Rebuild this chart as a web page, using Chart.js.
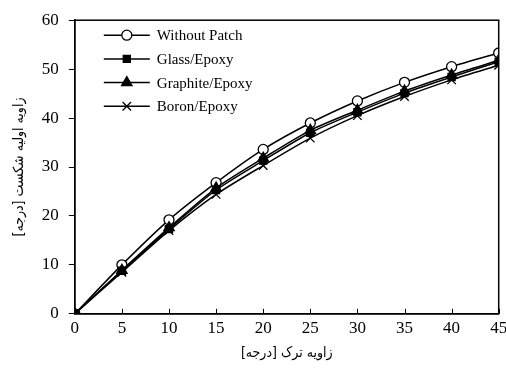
<!DOCTYPE html>
<html>
<head>
<meta charset="utf-8">
<script src="https://cdn.jsdelivr.net/npm/chart.js@4/dist/chart.umd.min.js"></script>
<style>
  html, body { margin: 0; padding: 0; background: #fff; }
  #wrap { width: 506px; height: 374px; position: relative; }
</style>
</head>
<body>
<div id="wrap"><canvas id="c" width="506" height="374"></canvas></div>
<script>
// Crack angle (degrees)
const crackAngle = [0, 5, 10, 15, 20, 25, 30, 35, 40, 45];
// Initial fracture angle (degrees) for each repair case
const withoutPatch = [0, 10.0, 19.2, 26.8, 33.6, 39.0, 43.5, 47.3, 50.5, 53.3];
const glassEpoxy   = [0, 8.8, 17.3, 25.3, 31.3, 37.0, 41.2, 45.1, 48.4, 51.5];
const graphiteEpoxy= [0, 8.9, 17.6, 25.7, 31.8, 37.5, 41.6, 45.5, 48.8, 51.8];
const boronEpoxy   = [0, 8.5, 17.0, 24.4, 30.3, 35.9, 40.5, 44.4, 47.8, 50.8];
const seriesNames = ['Without Patch', 'Glass/Epoxy', 'Graphite/Epoxy', 'Boron/Epoxy'];
const xTicks = [0, 5, 10, 15, 20, 25, 30, 35, 40, 45];
const yTicks = [0, 10, 20, 30, 40, 50, 60];

const FONT = '"Liberation Serif", "Times New Roman", serif';
const FA_FONT = '"DejaVu Sans Condensed", "DejaVu Sans", sans-serif';

const toPoints = arr => arr.map((v, i) => ({ x: crackAngle[i], y: v }));

const styles = [
  { pointStyle: 'circle', pointRadius: 5, pointBackgroundColor: '#fff', order: 3 },
  { pointStyle: 'rect', pointRadius: 5, pointBackgroundColor: '#000', order: 0 },
  { pointStyle: 'triangle', pointRadius: 6, pointBackgroundColor: '#000', order: 1 },
  { pointStyle: 'crossRot', pointRadius: 6, pointBackgroundColor: '#000', order: 2 }
];
const values = [withoutPatch, glassEpoxy, graphiteEpoxy, boronEpoxy];

const datasets = values.map((vals, i) => ({
  label: seriesNames[i],
  data: toPoints(vals),
  borderColor: '#000',
  borderWidth: 1.5,
  tension: 0.25,
  pointStyle: styles[i].pointStyle,
  pointRadius: styles[i].pointRadius,
  pointBackgroundColor: styles[i].pointBackgroundColor,
  pointBorderColor: '#000',
  pointBorderWidth: 1.3,
  order: styles[i].order
}));

// Frame, inward x ticks and the inset legend
const framePlugin = {
  id: 'frame',
  afterDraw(chart) {
    const { ctx, chartArea: a, scales } = chart;
    ctx.save();
    ctx.strokeStyle = '#000';
    ctx.lineWidth = 1.5;
    ctx.strokeRect(a.left, a.top, a.right - a.left, a.bottom - a.top);
    // inward ticks on the x axis
    ctx.lineWidth = 1;
    xTicks.forEach(t => {
      const px = Math.round(scales.x.getPixelForValue(t)) + 0.5;
      ctx.beginPath();
      ctx.moveTo(px, a.bottom);
      ctx.lineTo(px, a.bottom - 5);
      ctx.stroke();
    });
    // legend
    const lx = a.left + 29, ly = a.top + 15, gap = 23.7, len = 46;
    ctx.font = '15px ' + FONT;
    ctx.textBaseline = 'middle';
    chart.data.datasets.forEach((ds, i) => {
      const y = ly + i * gap;
      ctx.lineWidth = 1.5;
      ctx.strokeStyle = '#000';
      ctx.beginPath();
      ctx.moveTo(lx, y);
      ctx.lineTo(lx + len, y);
      ctx.stroke();
      ctx.lineWidth = 1.3;
      ctx.fillStyle = ds.pointBackgroundColor;
      Chart.helpers.drawPoint(ctx, {
        pointStyle: ds.pointStyle,
        radius: ds.pointRadius,
        rotation: 0,
        borderWidth: 1.3
      }, lx + len / 2, y);
      ctx.fillStyle = '#000';
      ctx.fillText(ds.label, lx + len + 7, y + 1);
    });
    ctx.restore();
  }
};

new Chart(document.getElementById('c'), {
  type: 'line',
  data: { datasets },
  plugins: [framePlugin],
  options: {
    responsive: false,
    animation: false,
    events: [],
    layout: { padding: { left: 7, right: 7, top: 12, bottom: 12 } },
    plugins: { legend: { display: false }, tooltip: { enabled: false } },
    scales: {
      x: {
        type: 'linear',
        min: 0, max: 45,
        afterBuildTicks: s => { s.ticks = xTicks.map(v => ({ value: v })); },
        // let the last tick label run into the right margin
        afterFit: s => { s.paddingRight = 0; },
        grid: { display: false, drawOnChartArea: false, drawTicks: false },
        border: { display: true, color: '#000', width: 1.5 },
        ticks: { color: '#000', font: { family: FONT, size: 17 }, padding: 5, maxRotation: 0 },
        title: { display: true, text: 'زاویه ترک [درجه]', color: '#000', font: { family: FA_FONT, size: 14 }, padding: { top: 1, bottom: 0 } }
      },
      y: {
        min: 0, max: 60,
        afterBuildTicks: s => { s.ticks = yTicks.map(v => ({ value: v })); },
        grid: { drawOnChartArea: false, drawTicks: true, tickLength: 6, color: '#000', lineWidth: 1 },
        border: { display: true, color: '#000', width: 1.5 },
        ticks: { color: '#000', font: { family: FONT, size: 17 }, padding: 10 },
        title: { display: true, text: 'زاویه اولیه شکست [درجه]', color: '#000', font: { family: FA_FONT, size: 14 }, padding: { top: 4, bottom: 4 } }
      }
    }
  }
});
</script>
</body>
</html>
